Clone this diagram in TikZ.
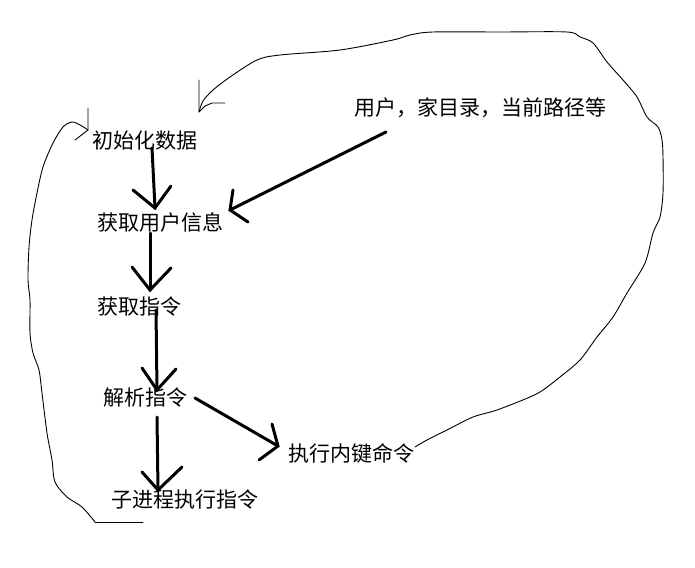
\documentclass[tikz,border=0pt]{standalone}
\usepackage{fontspec}
\newfontfamily\cjk{Noto Sans CJK SC}
\begin{document}
\begin{tikzpicture}[x=1pt,y=-1pt,
  lbl/.style={font=\cjk\fontsize{21}{21}\selectfont, inner sep=0pt, text=black},
  shaft/.style={line width=3pt, line cap=round},
  wing/.style={line width=3pt, line cap=round, line join=miter},
  loopline/.style={line width=0.9pt, line join=round, line cap=round}]
\useasboundingbox (0,0) rectangle (695,567);
\fill[white] (0,0) rectangle (695,567);

% labels
\node[lbl] (init) at (145,141) {初始化数据};
\node[lbl] (user) at (160,222) {获取用户信息};
\node[lbl] (get) at (139,307) {获取指令};
\node[lbl] (parse) at (145,398) {解析指令};
\node[lbl] (child) at (185,500) {子进程执行指令};
\node[lbl] (builtin) at (351,453) {执行内键命令};
\node[lbl] (env) at (480,108) {用户，家目录，当前路径等};

% arrow end points
\coordinate (a1s) at (152,148); \coordinate (a1t) at (155,208);
\coordinate (a1l) at (133,190); \coordinate (a1r) at (171,186);
\coordinate (a2s) at (150,233); \coordinate (a2t) at (150,290);
\coordinate (a2l) at (132,267); \coordinate (a2r) at (171,268);
\coordinate (a3s) at (156,310); \coordinate (a3t) at (157,390);
\coordinate (a3l) at (142,368); \coordinate (a3r) at (176,369);
\coordinate (a4s) at (157,417); \coordinate (a4t) at (158,490);
\coordinate (a4l) at (142,472); \coordinate (a4r) at (182,467);
\coordinate (a5s) at (195,398); \coordinate (a5t) at (278,446);
\coordinate (a5l) at (272,424); \coordinate (a5r) at (259,460);
\coordinate (a6s) at (386,132); \coordinate (a6t) at (230,210);
\coordinate (a6l) at (233,190); \coordinate (a6r) at (248,222);

% init -> user
\draw[shaft] (a1s) -- (a1t);
\draw[wing] (a1l) -- (a1t) -- (a1r);
% user -> get
\draw[shaft] (a2s) -- (a2t);
\draw[wing] (a2l) -- (a2t) -- (a2r);
% get -> parse
\draw[shaft] (a3s) -- (a3t);
\draw[wing] (a3l) -- (a3t) -- (a3r);
% parse -> child
\draw[shaft] (a4s) -- (a4t);
\draw[wing] (a4l) -- (a4t) -- (a4r);
% parse -> builtin
\draw[shaft] (a5s) -- (a5t);
\draw[wing] (a5l) -- (a5t) -- (a5r);
% env -> user
\draw[shaft] (a6s) -- (a6t);
\draw[wing] (a6l) -- (a6t) -- (a6r);

% right loop: builtin back to top
\coordinate (rl0) at (415,447);
\coordinate (rlt) at (199,112);
\draw[loopline] plot[smooth, tension=0.5] coordinates {
  (415,447) (427,440) (447,430) (473,417) (497,410) (530,397) (543,390)
  (560,377) (580,360) (597,337) (613,317) (627,293) (645,263) (653,233)
  (660,217) (663,193) (663,157) (662,140) (658,127) (647,117) (637,97)
  (623,80) (607,62) (593,43) (580,37) (567,32) (500,32) (433,32) (410,35)
  (393,40) (340,50) (280,55) (257,60) (230,77) (213,90) (203,101) (199,112)};
\draw[loopline] (199,80) -- (rlt) -- (205,106) -- (212,103) -- (225,103);

% left loop: child back to init
\coordinate (ll0) at (143,522);
\coordinate (llt) at (88,130);
\draw[loopline] (ll0) -- (95,522);
\draw[loopline] plot[smooth, tension=0.5] coordinates {
  (95,522) (82,507) (67,497) (55,482) (52,460) (47,433) (42,393) (39,370)
  (33,353) (30,333) (30,300) (28,280) (29,247) (32,220) (37,193) (43,167)
  (53,143) (63,127) (72,122) (80,125) (88,130)};
\draw[loopline] (88,108) -- (llt) -- (75,140);
\end{tikzpicture}
\end{document}
